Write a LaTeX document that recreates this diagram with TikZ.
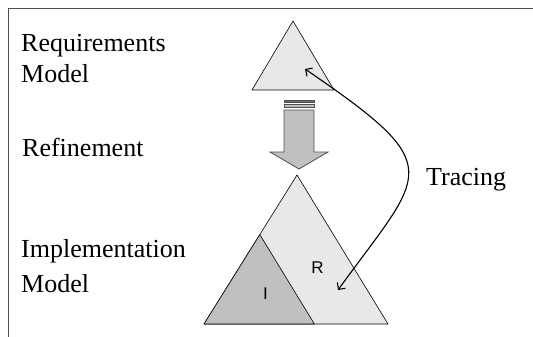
\documentclass[tikz,border=0pt]{standalone}
\usepackage{fontspec}
\setmainfont{Liberation Serif}
\newfontfamily\labelsans{Liberation Sans}
\usetikzlibrary{arrows.meta}
\definecolor{paleshade}{HTML}{E8E8E8}
\definecolor{midshade}{HTML}{C0C0C0}
\definecolor{rimgray}{HTML}{505050}
\definecolor{stripegray}{HTML}{707070}
\begin{document}
\begin{tikzpicture}[x=1pt,y=-1pt,
  caption/.style={anchor=base west, inner sep=0pt, font=\fontsize{26}{30}\selectfont},
  part/.style={inner sep=0pt, font=\labelsans\fontsize{17}{20}\selectfont},
  paletri/.style={fill=paleshade, draw=black, line width=0.6pt, line join=round},
  midtri/.style={fill=midshade, draw=black, line width=0.6pt, line join=round},
  blockarrow/.style={fill=midshade, draw=rimgray, line width=0.8pt},
  trace/.style={line width=1.1pt, {Straight Barb[length=5pt,width=10pt]}-{Straight Barb[length=5pt,width=10pt]}}
]
\useasboundingbox (0,0) rectangle (533,337);

% frame
\draw[line width=0.8pt, draw=rimgray] (8,337) |- (533,8);

% captions
\node[caption] (req1) at (21,52) {Requirements};
\node[caption] (req2) at (21,82) {Model};
\node[caption] (ref)  at (22,156) {Refinement};
\node[caption] (trc)  at (426,185) {Tracing};
\node[caption] (imp1) at (21,257) {Implementation};
\node[caption] (imp2) at (21,292) {Model};

% requirements model
\draw[paletri] (293,21) -- (334,90) -- (252,90) -- cycle;

% refinement arrow with stripes
\draw[fill=stripegray, draw=rimgray, line width=0.6pt] (284,100) rectangle (314,102);
\draw[fill=midshade, draw=rimgray, line width=0.6pt] (284,104.5) rectangle (314,107.5);
\draw[blockarrow] (284,110) -- (314,110) -- (314,152) -- (328,152) -- (299,169)
  -- (270,152) -- (284,152) -- cycle;

% implementation model
\draw[paletri] (297,175) -- (388,324) -- (204,324) -- cycle;
\draw[midtri] (259.8,234.6) -- (314.4,324) -- (204,324) -- cycle;
\node[part] (R) at (317.5,267.5) {R};
\node[part] (I) at (265.5,294) {I};

% tracing link
\coordinate (tA) at (305,69);
\coordinate (tB) at (338,290);
\draw[trace] (tA) .. controls (450,168) and (425,170) .. (tB);
\end{tikzpicture}
\end{document}
